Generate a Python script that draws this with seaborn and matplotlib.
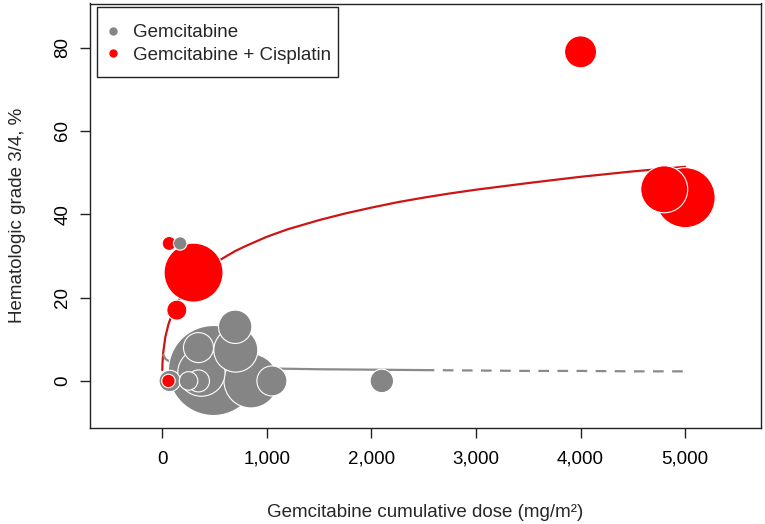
import matplotlib
matplotlib.use("Agg")
import matplotlib.pyplot as plt
import seaborn as sns
import pandas as pd
from matplotlib.lines import Line2D
from matplotlib.patches import Rectangle
from matplotlib.ticker import FuncFormatter

# ---- data ----
gem_dose = [172, 698, 347, 704, 490, 849, 1049, 2100, 72, 252, 347, 375]
gem_rate = [33, 13, 8, 7.4, 2.5, 0, 0, 0, 0, 0, 0, 2]
gem_weight = [45, 279, 225, 484, 2025, 729, 225, 137, 114, 86, 121, 560]

cis_dose = [67, 300, 140, 60, 4000, 4800, 5000]
cis_rate = [33, 26, 17, 0, 79, 46, 44]
cis_weight = [49, 870, 100, 45, 256, 552, 900]

# fitted curves
cis_fit_x = [1, 3, 10, 30, 60, 100, 150, 200, 250, 300, 400, 550, 700, 800, 1000,
             1200, 1500, 1750, 2000, 2250, 2500, 2750, 3000, 3500, 4000, 4500, 5000]
cis_fit_y = [2.6, 4.2, 6.8, 10.5, 13.6, 16.4, 19.0, 20.9, 22.6, 24.0, 26.3, 29.0,
             31.2, 32.4, 34.6, 36.4, 38.6, 40.2, 41.6, 42.9, 44.0, 45.0, 45.9,
             47.5, 49.0, 50.3, 51.4]
gem_fit_x = [10, 30, 60, 100, 200, 400, 700, 1000, 1500, 2000, 2500]
gem_fit_y = [6.3, 5.3, 4.8, 4.4, 3.9, 3.5, 3.2, 3.0, 2.8, 2.7, 2.6]
gem_ext_x = [2500, 3000, 3500, 4000, 4500, 5000]
gem_ext_y = [2.6, 2.5, 2.4, 2.4, 2.3, 2.3]

x_ticks = [0, 1000, 2000, 3000, 4000, 5000]
y_ticks = [0, 20, 40, 60, 80]
groups = ["Gemcitabine", "Gemcitabine + Cisplatin"]

GRAY = "#858585"
RED = "#FF0000"
RED_LINE = "#CC1616"
GRAY_LINE = "#8A8A8A"

sns.set_style("white")
plt.rcParams["font.family"] = ["Liberation Sans", "DejaVu Sans"]

fig = plt.figure(figsize=(7.65, 5.24), dpi=100)
ax = fig.add_axes([90 / 765, 1 - 428 / 524, (761 - 90) / 765, (428 - 3.5) / 524])

df = pd.DataFrame({
    "dose": gem_dose + cis_dose,
    "rate": gem_rate + cis_rate,
    "weight": gem_weight + cis_weight,
    "group": [groups[0]] * len(gem_dose) + [groups[1]] * len(cis_dose),
}).sort_values("weight", ascending=False)

# fitted lines (under the circles)
sns.lineplot(x=cis_fit_x, y=cis_fit_y, ax=ax, color=RED_LINE, linewidth=1.6,
             estimator=None, sort=False, zorder=1)
sns.lineplot(x=gem_fit_x, y=gem_fit_y, ax=ax, color=GRAY_LINE, linewidth=1.6,
             estimator=None, sort=False, zorder=1)
sns.lineplot(x=gem_ext_x, y=gem_ext_y, ax=ax, color=GRAY_LINE, linewidth=1.6,
             estimator=None, sort=False, zorder=1, linestyle=(0, (4.8, 3.8)))

wmax = max(gem_weight + cis_weight)
sns.scatterplot(data=df, x="dose", y="rate", hue="group", size="weight",
                sizes=(0, 2.0736 * wmax), size_norm=(0, wmax),
                palette={groups[0]: GRAY, groups[1]: RED},
                edgecolor="white", linewidth=0.8, legend=False, ax=ax, zorder=3)

ax.set_xlim(-690, 5725)
ax.set_ylim(-11.3, 90.6)
ax.set_xticks(x_ticks)
ax.set_yticks(y_ticks)
ax.xaxis.set_major_formatter(FuncFormatter(lambda v, p: f"{int(v):,}"))

for s in ax.spines.values():
    s.set_visible(True)
    s.set_color("#222222")
    s.set_linewidth(1.0)

ax.tick_params(axis="both", which="major", direction="out", length=7.5, width=1.0,
               color="#222222", labelsize=13.5, labelcolor="black",
               bottom=True, left=True)
ax.tick_params(axis="x", pad=9)
ax.tick_params(axis="y", pad=6, labelrotation=90)
for lab in ax.get_yticklabels():
    lab.set_va("center")

ax.set_xlabel("Gemcitabine cumulative dose (mg/m²)", fontsize=13.5)
ax.set_ylabel("Hematologic grade 3/4, %", fontsize=13.5)
ax.xaxis.set_label_coords(0.5, -0.178)
ax.yaxis.set_label_coords(-0.096, 0.5)

# legend box (drawn separately for R-like padding)
axw, axh = 671.0, 424.5
box = Rectangle(((97 - 90) / axw, 1 - (76.7 - 3.5) / axh), 241 / axw, 70 / axh,
                transform=ax.transAxes, facecolor="white", edgecolor="#222222",
                linewidth=1.0, zorder=4)
ax.add_patch(box)

handles = [Line2D([0], [0], marker="o", linestyle="none", markersize=5,
                  markerfacecolor=GRAY, markeredgecolor=GRAY),
           Line2D([0], [0], marker="o", linestyle="none", markersize=5,
                  markerfacecolor=RED, markeredgecolor=RED)]
leg = ax.legend(handles, groups, loc="upper left",
                bbox_to_anchor=((105.5 - 90) / axw, 1 - (24 - 3.5) / axh),
                borderaxespad=0, fontsize=13.5, frameon=False, borderpad=0,
                handlelength=0.8, handletextpad=0.67, labelspacing=0.28)
leg.set_zorder(5)

fig.savefig("out.png", dpi=100)
